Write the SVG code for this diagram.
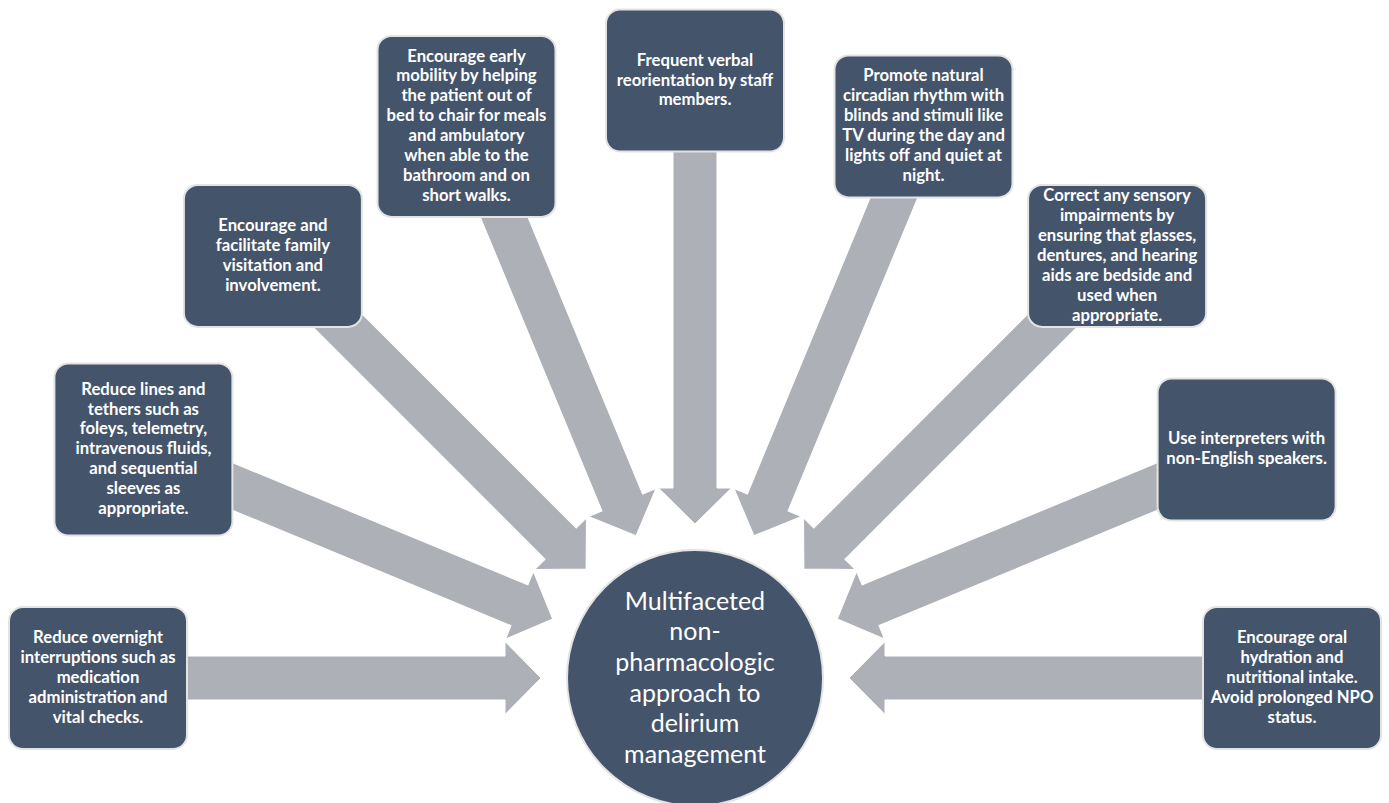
<svg xmlns="http://www.w3.org/2000/svg" width="1389" height="803" viewBox="0 0 1389 803">
<style>
.arr{fill:#AEB0B8;stroke:#fff;stroke-width:1}
.box{fill:#44546A;stroke:#E3E3E3;stroke-width:2}
.bt{font-family:Lato,"Open Sans","DejaVu Sans",sans-serif;font-weight:700;font-size:16.7px;fill:#fff;text-anchor:middle}
.ct{font-family:Lato,"Open Sans","DejaVu Sans",sans-serif;font-weight:400;font-size:25px;fill:#fff;text-anchor:middle}
</style>
<rect width="1389" height="803" fill="#fff"/>
<g id="connectors">
<path class="arr" d="M-154 0L-190 -36.5L-190 -22L-597 -22L-597 22L-190 22L-190 36.5Z" transform="translate(695 678) rotate(0)"/>
<path class="arr" d="M-154 0L-190 -36.5L-190 -22L-597 -22L-597 22L-190 22L-190 36.5Z" transform="translate(695 678) rotate(22.5)"/>
<path class="arr" d="M-154 0L-190 -36.5L-190 -22L-597 -22L-597 22L-190 22L-190 36.5Z" transform="translate(695 678) rotate(45)"/>
<path class="arr" d="M-154 0L-190 -36.5L-190 -22L-597 -22L-597 22L-190 22L-190 36.5Z" transform="translate(695 678) rotate(67.5)"/>
<path class="arr" d="M-154 0L-190 -36.5L-190 -22L-597 -22L-597 22L-190 22L-190 36.5Z" transform="translate(695 678) rotate(90)"/>
<path class="arr" d="M-154 0L-190 -36.5L-190 -22L-597 -22L-597 22L-190 22L-190 36.5Z" transform="translate(695 678) rotate(112.5)"/>
<path class="arr" d="M-154 0L-190 -36.5L-190 -22L-597 -22L-597 22L-190 22L-190 36.5Z" transform="translate(695 678) rotate(135)"/>
<path class="arr" d="M-154 0L-190 -36.5L-190 -22L-597 -22L-597 22L-190 22L-190 36.5Z" transform="translate(695 678) rotate(157.5)"/>
<path class="arr" d="M-154 0L-190 -36.5L-190 -22L-597 -22L-597 22L-190 22L-190 36.5Z" transform="translate(695 678) rotate(180)"/>
</g>
<g id="center">
<circle cx="695" cy="678" r="128" fill="#44546A" stroke="#E3E3E3" stroke-width="2"/>
<text class="ct" x="695" y="609.5"><tspan x="695">Multifaceted</tspan><tspan x="695" dy="30.7">non-</tspan><tspan x="695" dy="30.7">pharmacologic</tspan><tspan x="695" dy="30.7">approach to</tspan><tspan x="695" dy="30.7">delirium</tspan><tspan x="695" dy="30.7">management</tspan></text>
</g>
<g id="n1">
<rect class="box" x="9" y="607" width="178" height="142" rx="14"/>
<text class="bt" x="98" y="643"><tspan x="98">Reduce overnight</tspan><tspan x="98" dy="19.9">interruptions such as</tspan><tspan x="98" dy="19.9">medication</tspan><tspan x="98" dy="19.9">administration and</tspan><tspan x="98" dy="19.9">vital checks.</tspan></text>
</g>
<g id="n2">
<rect class="box" x="54.4" y="363.5" width="178" height="172" rx="14"/>
<text class="bt" x="143.4" y="394.6"><tspan x="143.4">Reduce lines and</tspan><tspan x="143.4" dy="19.9">tethers such as</tspan><tspan x="143.4" dy="19.9">foleys, telemetry,</tspan><tspan x="143.4" dy="19.9">intravenous fluids,</tspan><tspan x="143.4" dy="19.9">and sequential</tspan><tspan x="143.4" dy="19.9">sleeves as</tspan><tspan x="143.4" dy="19.9">appropriate.</tspan></text>
</g>
<g id="n3">
<rect class="box" x="183.9" y="184.9" width="178" height="142" rx="14"/>
<text class="bt" x="272.9" y="230.9"><tspan x="272.9">Encourage and</tspan><tspan x="272.9" dy="19.9">facilitate family</tspan><tspan x="272.9" dy="19.9">visitation and</tspan><tspan x="272.9" dy="19.9">involvement.</tspan></text>
</g>
<g id="n4">
<rect class="box" x="377.5" y="35.9" width="178" height="181" rx="14"/>
<text class="bt" x="466.5" y="61.5"><tspan x="466.5">Encourage early</tspan><tspan x="466.5" dy="19.9">mobility by helping</tspan><tspan x="466.5" dy="19.9">the patient out of</tspan><tspan x="466.5" dy="19.9">bed to chair for meals</tspan><tspan x="466.5" dy="19.9">and ambulatory</tspan><tspan x="466.5" dy="19.9">when able to the</tspan><tspan x="466.5" dy="19.9">bathroom and on</tspan><tspan x="466.5" dy="19.9">short walks.</tspan></text>
</g>
<g id="n5">
<rect class="box" x="606" y="9.5" width="178" height="142" rx="14"/>
<text class="bt" x="695" y="65.6"><tspan x="695">Frequent verbal</tspan><tspan x="695" dy="19.9">reorientation by staff</tspan><tspan x="695" dy="19.9">members.</tspan></text>
</g>
<g id="n6">
<rect class="box" x="834.5" y="55.4" width="178" height="142" rx="14"/>
<text class="bt" x="923.5" y="81"><tspan x="923.5">Promote natural</tspan><tspan x="923.5" dy="19.9">circadian rhythm with</tspan><tspan x="923.5" dy="19.9">blinds and stimuli like</tspan><tspan x="923.5" dy="19.9">TV during the day and</tspan><tspan x="923.5" dy="19.9">lights off and quiet at</tspan><tspan x="923.5" dy="19.9">night.</tspan></text>
</g>
<g id="n7">
<rect class="box" x="1028.1" y="184.9" width="178" height="142" rx="14"/>
<text class="bt" x="1117.1" y="201.1"><tspan x="1117.1">Correct any sensory</tspan><tspan x="1117.1" dy="19.9">impairments by</tspan><tspan x="1117.1" dy="19.9">ensuring that glasses,</tspan><tspan x="1117.1" dy="19.9">dentures, and hearing</tspan><tspan x="1117.1" dy="19.9">aids are bedside and</tspan><tspan x="1117.1" dy="19.9">used when</tspan><tspan x="1117.1" dy="19.9">appropriate.</tspan></text>
</g>
<g id="n8">
<rect class="box" x="1157.6" y="378.5" width="178" height="142" rx="14"/>
<text class="bt" x="1246.6" y="444.3"><tspan x="1246.6">Use interpreters with</tspan><tspan x="1246.6" dy="19.9">non-English speakers.</tspan></text>
</g>
<g id="n9">
<rect class="box" x="1203" y="607" width="178" height="142" rx="14"/>
<text class="bt" x="1292" y="643"><tspan x="1292">Encourage oral</tspan><tspan x="1292" dy="19.9">hydration and</tspan><tspan x="1292" dy="19.9">nutritional intake.</tspan><tspan x="1292" dy="19.9">Avoid prolonged NPO</tspan><tspan x="1292" dy="19.9">status.</tspan></text>
</g>
</svg>
